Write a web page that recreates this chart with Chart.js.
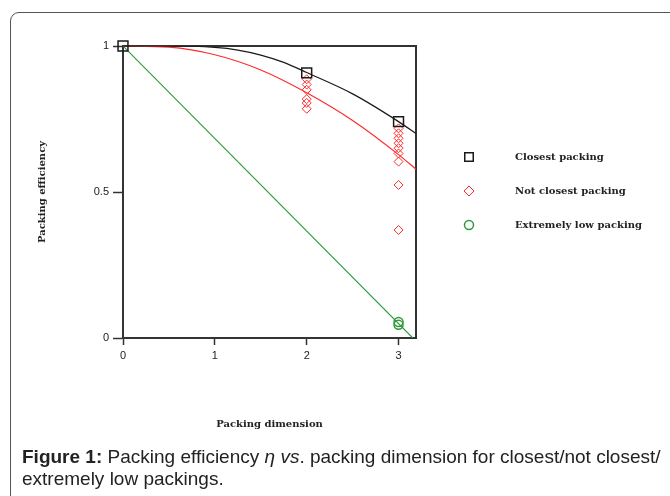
<!DOCTYPE html>
<html>
<head>
<meta charset="utf-8">
<script src="https://cdn.jsdelivr.net/npm/chart.js@4.4.1/dist/chart.umd.min.js"></script>
<style>
  html, body { margin: 0; padding: 0; width: 670px; height: 496px; overflow: hidden; background: #fff; }
  #frame { position: absolute; left: 10px; top: 12px; width: 720px; height: 560px; border: 1px solid #555; border-radius: 9px; box-sizing: border-box; }
  #wrap { position: absolute; left: 0; top: 0; width: 670px; height: 496px; }
  #caption { position: absolute; left: 22px; top: 446px; margin: 0;
             font: 19px "Liberation Sans", Arial, sans-serif; line-height: 22px; color: #222; }
  #caption span { display: block; white-space: nowrap; }
</style>
</head>
<body>
<div id="frame"></div>
<div id="wrap"><canvas id="c" width="670" height="496"></canvas></div>
<p id="caption"><span><b>Figure 1:</b> Packing efficiency <i>η</i> <i>vs</i>. packing dimension for closest/not closest/</span><span>extremely low packings.</span></p>

<script>
// Measured packings: dimension vs. efficiency
const closestDim = [0, 2, 3];
const closestEff = [1, 0.908, 0.741];

const notClosestDim = [2, 2, 2, 2, 2, 2, 3, 3, 3, 3, 3, 3, 3, 3, 3];
const notClosestEff = [0.886, 0.868, 0.85, 0.818, 0.805, 0.785,
                       0.718, 0.701, 0.684, 0.667, 0.650, 0.632, 0.604, 0.524, 0.37];

const lowDim = [3, 3];
const lowEff = [0.055, 0.045];

// Trend curves through each family
const closestCurveDim = [0, 0.5, 1, 1.25, 1.5, 1.75, 2, 2.5, 3, 3.19];
const closestCurveEff = [1, 1, 0.995, 0.986, 0.969, 0.944, 0.909, 0.836, 0.741, 0.70];

const notClosestCurveDim = [0, 0.5, 1, 1.5, 2, 2.5, 3, 3.19];
const notClosestCurveEff = [1, 0.996, 0.97, 0.918, 0.84, 0.745, 0.628, 0.578];

const lowCurveDim = [0, 3.155];
const lowCurveEff = [1, 0];

// Axis ticks
const dimTicks = [0, 1, 2, 3];
const effTicks = [0, 0.5, 1];

const pts = (xs, ys) => xs.map((x, i) => ({ x: x, y: ys[i] }));

const BLACK = '#1a1a1a', RED = '#ff2a2a', GREEN = '#2f9a3a';
const serif = { family: '"DejaVu Serif", serif', size: 10, weight: 'bold' };
const tickFont = { family: '"Liberation Sans", Arial, sans-serif', size: 11 };

// Box around the plotting area (top and right sides)
const boxPlugin = {
  id: 'box',
  beforeDatasetsDraw(chart) {
    const a = chart.chartArea, ctx = chart.ctx;
    ctx.save();
    ctx.strokeStyle = '#333';
    ctx.lineWidth = 2;
    ctx.beginPath();
    ctx.moveTo(a.left, a.top);
    ctx.lineTo(a.right, a.top);
    ctx.lineTo(a.right, a.bottom);
    ctx.stroke();
    ctx.restore();
  }
};

// Legend to the right of the plot
const sideLegend = {
  id: 'sideLegend',
  afterDraw(chart) {
    const ctx = chart.ctx;
    const items = chart.data.datasets.filter(d => d.legend);
    ctx.save();
    items.forEach((d, i) => {
      const y = 157 + i * 34;
      ctx.strokeStyle = d.borderColor;
      ctx.fillStyle = 'rgba(0,0,0,0)';
      ctx.lineWidth = d.borderWidth;
      Chart.helpers.drawPoint(ctx, {
        pointStyle: d.pointStyle, radius: d.legendRadius, rotation: 0, borderWidth: d.borderWidth
      }, 469, y);
      ctx.fillStyle = '#222';
      ctx.font = 'bold 10px "DejaVu Serif", serif';
      ctx.textBaseline = 'middle';
      ctx.textAlign = 'left';
      ctx.fillText(d.label, 515, y);
    });
    ctx.restore();
  }
};

new Chart(document.getElementById('c'), {
  type: 'scatter',
  data: {
    datasets: [
      { label: 'Closest packing', legend: true, legendRadius: 6, clip: false,
        data: pts(closestDim, closestEff), pointStyle: 'rect', pointRadius: 7,
        borderColor: BLACK, backgroundColor: 'rgba(0,0,0,0)', borderWidth: 1.5, showLine: false },
      { label: 'Not closest packing', legend: true, legendRadius: 5, clip: false,
        data: pts(notClosestDim, notClosestEff), pointStyle: 'rectRot', pointRadius: 4.5,
        borderColor: RED, backgroundColor: 'rgba(0,0,0,0)', borderWidth: 1, showLine: false },
      { label: 'Extremely low packing', legend: true, legendRadius: 4.5, clip: false,
        data: pts(lowDim, lowEff), pointStyle: 'circle', pointRadius: 4.5,
        borderColor: GREEN, backgroundColor: 'rgba(0,0,0,0)', borderWidth: 1.5, showLine: false },
      { label: 'closest trend', data: pts(closestCurveDim, closestCurveEff), showLine: true,
        pointRadius: 0, borderColor: BLACK, borderWidth: 1.2, cubicInterpolationMode: 'monotone' },
      { label: 'not closest trend', data: pts(notClosestCurveDim, notClosestCurveEff), showLine: true,
        pointRadius: 0, borderColor: RED, borderWidth: 1.2, cubicInterpolationMode: 'monotone' },
      { label: 'low trend', data: pts(lowCurveDim, lowCurveEff), showLine: true,
        pointRadius: 0, borderColor: GREEN, borderWidth: 1.1 }
    ]
  },
  options: {
    responsive: false,
    animation: false,
    layout: { padding: { left: 0, top: 46, right: 254, bottom: 0 } },
    plugins: { legend: { display: false }, tooltip: { enabled: false } },
    scales: {
      x: {
        type: 'linear', min: 0, max: 3.19,
        afterFit(s) { s.height = 158; },
        afterBuildTicks(s) { s.ticks = dimTicks.map(v => ({ value: v })); },
        ticks: { font: tickFont, color: '#222', padding: 4, callback: v => String(v) },
        grid: { drawOnChartArea: false, drawTicks: true, tickLength: 7, tickColor: '#333', tickWidth: 1.5 },
        border: { color: '#333', width: 2 },
        title: { display: true, text: 'Packing dimension', font: serif, color: '#222',
                 padding: { top: 0, bottom: 66 } }
      },
      y: {
        type: 'linear', min: 0, max: 1,
        afterFit(s) { s.width = 123; },
        afterBuildTicks(s) { s.ticks = effTicks.map(v => ({ value: v })); },
        ticks: { font: tickFont, color: '#222', padding: 4, callback: v => String(v) },
        grid: { drawOnChartArea: false, drawTicks: true, tickLength: 10, tickColor: '#333', tickWidth: 1.5 },
        border: { color: '#333', width: 2 },
        title: { display: true, text: 'Packing efficiency', font: serif, color: '#222',
                 padding: { top: 36, bottom: 0 } }
      }
    }
  },
  plugins: [boxPlugin, sideLegend]
});
</script>
</body>
</html>
